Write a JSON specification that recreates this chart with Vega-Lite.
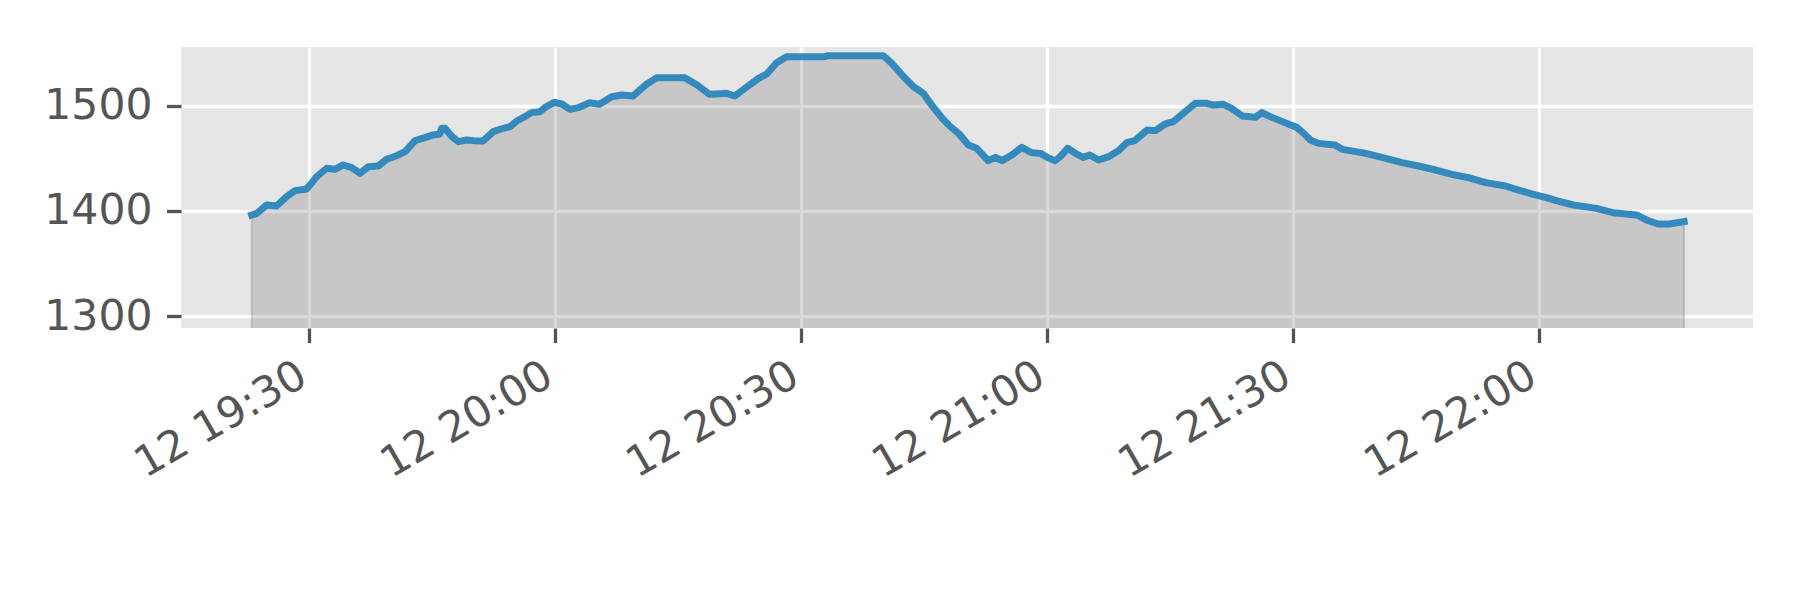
{
  "$schema": "https://vega.github.io/schema/vega-lite/v6.json",
  "width": 1572,
  "height": 281,
  "autosize": {"type": "none"},
  "padding": {"left": 181, "top": 47, "right": 47, "bottom": 272},
  "background": "white",
  "config": {
    "view": {"fill": "#E5E5E5", "stroke": null},
    "font": "DejaVu Sans",
    "axis": {
      "labelFont": "DejaVu Sans",
      "labelFontSize": 42.5,
      "labelColor": "#555555",
      "labelLimit": 0,
      "domain": false,
      "grid": true,
      "gridColor": "#FFFFFF",
      "gridWidth": 3.3,
      "gridOpacity": 1,
      "tickColor": "#555555",
      "tickWidth": 3.3,
      "tickSize": 14.5,
      "labelPadding": 14.5,
      "title": null
    }
  },
  "data": {
    "values": [
      {"t": "2021-05-12T19:22:58", "v": 1396.2},
      {"t": "2021-05-12T19:23:36", "v": 1397.8},
      {"t": "2021-05-12T19:24:48", "v": 1405.7},
      {"t": "2021-05-12T19:26:00", "v": 1404.7},
      {"t": "2021-05-12T19:27:14", "v": 1413.6},
      {"t": "2021-05-12T19:28:16", "v": 1419.3},
      {"t": "2021-05-12T19:29:41", "v": 1420.9},
      {"t": "2021-05-12T19:30:54", "v": 1432.6},
      {"t": "2021-05-12T19:32:07", "v": 1440.5},
      {"t": "2021-05-12T19:33:08", "v": 1439.6},
      {"t": "2021-05-12T19:34:09", "v": 1443.7},
      {"t": "2021-05-12T19:35:10", "v": 1441.1},
      {"t": "2021-05-12T19:36:11", "v": 1435.8},
      {"t": "2021-05-12T19:37:12", "v": 1442.1},
      {"t": "2021-05-12T19:38:25", "v": 1442.7},
      {"t": "2021-05-12T19:39:26", "v": 1449.1},
      {"t": "2021-05-12T19:40:40", "v": 1452.5},
      {"t": "2021-05-12T19:41:41", "v": 1456.3},
      {"t": "2021-05-12T19:42:54", "v": 1466.8},
      {"t": "2021-05-12T19:44:06", "v": 1469.6},
      {"t": "2021-05-12T19:45:06", "v": 1472.2},
      {"t": "2021-05-12T19:45:54", "v": 1473.1},
      {"t": "2021-05-12T19:46:09", "v": 1478.5},
      {"t": "2021-05-12T19:46:33", "v": 1478.5},
      {"t": "2021-05-12T19:47:24", "v": 1470.6},
      {"t": "2021-05-12T19:48:12", "v": 1465.8},
      {"t": "2021-05-12T19:49:12", "v": 1467.4},
      {"t": "2021-05-12T19:50:00", "v": 1466.8},
      {"t": "2021-05-12T19:51:12", "v": 1466.5},
      {"t": "2021-05-12T19:52:27", "v": 1475.3},
      {"t": "2021-05-12T19:53:40", "v": 1478.5},
      {"t": "2021-05-12T19:54:30", "v": 1480.1},
      {"t": "2021-05-12T19:55:18", "v": 1485.4},
      {"t": "2021-05-12T19:56:18", "v": 1489.6},
      {"t": "2021-05-12T19:57:06", "v": 1493.4},
      {"t": "2021-05-12T19:58:06", "v": 1494.3},
      {"t": "2021-05-12T19:58:54", "v": 1499.1},
      {"t": "2021-05-12T19:59:54", "v": 1503.2},
      {"t": "2021-05-12T20:00:48", "v": 1501.6},
      {"t": "2021-05-12T20:01:48", "v": 1496.5},
      {"t": "2021-05-12T20:02:48", "v": 1498.1},
      {"t": "2021-05-12T20:04:12", "v": 1502.8},
      {"t": "2021-05-12T20:05:24", "v": 1501.3},
      {"t": "2021-05-12T20:06:54", "v": 1508.5},
      {"t": "2021-05-12T20:08:06", "v": 1510.1},
      {"t": "2021-05-12T20:09:30", "v": 1509.2},
      {"t": "2021-05-12T20:11:00", "v": 1519.6},
      {"t": "2021-05-12T20:12:24", "v": 1526.6},
      {"t": "2021-05-12T20:15:48", "v": 1526.6},
      {"t": "2021-05-12T20:17:18", "v": 1519.6},
      {"t": "2021-05-12T20:18:48", "v": 1510.8},
      {"t": "2021-05-12T20:19:42", "v": 1511.1},
      {"t": "2021-05-12T20:20:54", "v": 1511.7},
      {"t": "2021-05-12T20:21:54", "v": 1509.2},
      {"t": "2021-05-12T20:23:24", "v": 1518.0},
      {"t": "2021-05-12T20:24:48", "v": 1525.9},
      {"t": "2021-05-12T20:25:48", "v": 1530.1},
      {"t": "2021-05-12T20:27:00", "v": 1540.8},
      {"t": "2021-05-12T20:28:12", "v": 1546.5},
      {"t": "2021-05-12T20:32:54", "v": 1546.5},
      {"t": "2021-05-12T20:33:18", "v": 1547.5},
      {"t": "2021-05-12T20:40:00", "v": 1547.5},
      {"t": "2021-05-12T20:41:03", "v": 1540.2},
      {"t": "2021-05-12T20:42:30", "v": 1527.5},
      {"t": "2021-05-12T20:43:42", "v": 1518.0},
      {"t": "2021-05-12T20:44:54", "v": 1511.7},
      {"t": "2021-05-12T20:45:54", "v": 1500.6},
      {"t": "2021-05-12T20:47:12", "v": 1488.0},
      {"t": "2021-05-12T20:48:12", "v": 1480.1},
      {"t": "2021-05-12T20:49:12", "v": 1473.7},
      {"t": "2021-05-12T20:50:24", "v": 1462.7},
      {"t": "2021-05-12T20:51:24", "v": 1459.5},
      {"t": "2021-05-12T20:52:48", "v": 1447.8},
      {"t": "2021-05-12T20:53:42", "v": 1450.9},
      {"t": "2021-05-12T20:54:30", "v": 1447.8},
      {"t": "2021-05-12T20:55:42", "v": 1453.2},
      {"t": "2021-05-12T20:56:54", "v": 1460.4},
      {"t": "2021-05-12T20:58:06", "v": 1455.4},
      {"t": "2021-05-12T20:59:12", "v": 1454.7},
      {"t": "2021-05-12T21:00:06", "v": 1450.5},
      {"t": "2021-05-12T21:01:00", "v": 1447.8},
      {"t": "2021-05-12T21:01:36", "v": 1451.6},
      {"t": "2021-05-12T21:02:30", "v": 1459.5},
      {"t": "2021-05-12T21:03:36", "v": 1454.1},
      {"t": "2021-05-12T21:04:24", "v": 1450.9},
      {"t": "2021-05-12T21:05:12", "v": 1453.2},
      {"t": "2021-05-12T21:06:18", "v": 1448.4},
      {"t": "2021-05-12T21:07:30", "v": 1451.6},
      {"t": "2021-05-12T21:08:42", "v": 1457.3},
      {"t": "2021-05-12T21:09:42", "v": 1464.9},
      {"t": "2021-05-12T21:10:42", "v": 1466.8},
      {"t": "2021-05-12T21:12:12", "v": 1476.9},
      {"t": "2021-05-12T21:13:12", "v": 1476.3},
      {"t": "2021-05-12T21:14:24", "v": 1482.6},
      {"t": "2021-05-12T21:15:24", "v": 1484.8},
      {"t": "2021-05-12T21:16:36", "v": 1492.7},
      {"t": "2021-05-12T21:18:03", "v": 1502.2},
      {"t": "2021-05-12T21:19:30", "v": 1502.2},
      {"t": "2021-05-12T21:20:18", "v": 1500.6},
      {"t": "2021-05-12T21:21:30", "v": 1501.3},
      {"t": "2021-05-12T21:22:30", "v": 1497.5},
      {"t": "2021-05-12T21:23:48", "v": 1490.2},
      {"t": "2021-05-12T21:25:24", "v": 1488.9},
      {"t": "2021-05-12T21:26:12", "v": 1493.4},
      {"t": "2021-05-12T21:27:12", "v": 1489.6},
      {"t": "2021-05-12T21:28:24", "v": 1485.8},
      {"t": "2021-05-12T21:29:42", "v": 1481.6},
      {"t": "2021-05-12T21:30:27", "v": 1479.4},
      {"t": "2021-05-12T21:31:18", "v": 1473.7},
      {"t": "2021-05-12T21:32:06", "v": 1467.4},
      {"t": "2021-05-12T21:33:06", "v": 1464.2},
      {"t": "2021-05-12T21:35:06", "v": 1462.7},
      {"t": "2021-05-12T21:36:00", "v": 1458.5},
      {"t": "2021-05-12T21:38:24", "v": 1455.4},
      {"t": "2021-05-12T21:39:36", "v": 1453.2},
      {"t": "2021-05-12T21:41:18", "v": 1450.0},
      {"t": "2021-05-12T21:43:18", "v": 1445.9},
      {"t": "2021-05-12T21:45:18", "v": 1442.7},
      {"t": "2021-05-12T21:47:24", "v": 1438.9},
      {"t": "2021-05-12T21:49:24", "v": 1434.8},
      {"t": "2021-05-12T21:51:24", "v": 1431.6},
      {"t": "2021-05-12T21:53:30", "v": 1426.9},
      {"t": "2021-05-12T21:55:54", "v": 1423.7},
      {"t": "2021-05-12T21:57:30", "v": 1419.9},
      {"t": "2021-05-12T21:59:12", "v": 1416.1},
      {"t": "2021-05-12T22:00:48", "v": 1413.0},
      {"t": "2021-05-12T22:02:06", "v": 1409.8},
      {"t": "2021-05-12T22:04:12", "v": 1405.7},
      {"t": "2021-05-12T22:07:00", "v": 1402.5},
      {"t": "2021-05-12T22:09:00", "v": 1398.4},
      {"t": "2021-05-12T22:11:54", "v": 1396.2},
      {"t": "2021-05-12T22:13:06", "v": 1391.5},
      {"t": "2021-05-12T22:14:30", "v": 1387.7},
      {"t": "2021-05-12T22:15:54", "v": 1387.7},
      {"t": "2021-05-12T22:17:42", "v": 1389.9}
    ]
  },
  "encoding": {
    "x": {
      "field": "t",
      "type": "temporal",
      "scale": {
        "domain": [
          {"year": 2021, "month": 5, "date": 12, "hours": 19, "minutes": 14, "seconds": 21},
          {"year": 2021, "month": 5, "date": 12, "hours": 22, "minutes": 26, "seconds": 6}
        ]
      },
      "axis": {
        "format": "%d %H:%M",
        "values": [
          {"year": 2021, "month": 5, "date": 12, "hours": 19, "minutes": 30},
          {"year": 2021, "month": 5, "date": 12, "hours": 20, "minutes": 0},
          {"year": 2021, "month": 5, "date": 12, "hours": 20, "minutes": 30},
          {"year": 2021, "month": 5, "date": 12, "hours": 21, "minutes": 0},
          {"year": 2021, "month": 5, "date": 12, "hours": 21, "minutes": 30},
          {"year": 2021, "month": 5, "date": 12, "hours": 22, "minutes": 0}
        ],
        "labelAngle": -30,
        "labelAlign": "right",
        "labelBaseline": "top",
        "labelOffset": -17,
        "labelPadding": 11,
        "labelFlush": false,
        "labelOverlap": false
      }
    },
    "y": {
      "field": "v",
      "type": "quantitative",
      "scale": {"domain": [1288.9, 1555.7], "zero": false, "nice": false},
      "axis": {"values": [1300, 1400, 1500], "format": "d", "labelOverlap": false}
    }
  },
  "layer": [
    {
      "mark": {
        "type": "area",
        "clip": true,
        "fill": "#808080",
        "fillOpacity": 0.3,
        "stroke": "#808080",
        "strokeOpacity": 0.3,
        "strokeWidth": 2
      },
      "encoding": {"y2": {"datum": 1200}}
    },
    {
      "mark": {
        "type": "line",
        "clip": true,
        "color": "#348ABD",
        "strokeWidth": 7,
        "strokeCap": "square",
        "strokeJoin": "round"
      }
    }
  ]
}
